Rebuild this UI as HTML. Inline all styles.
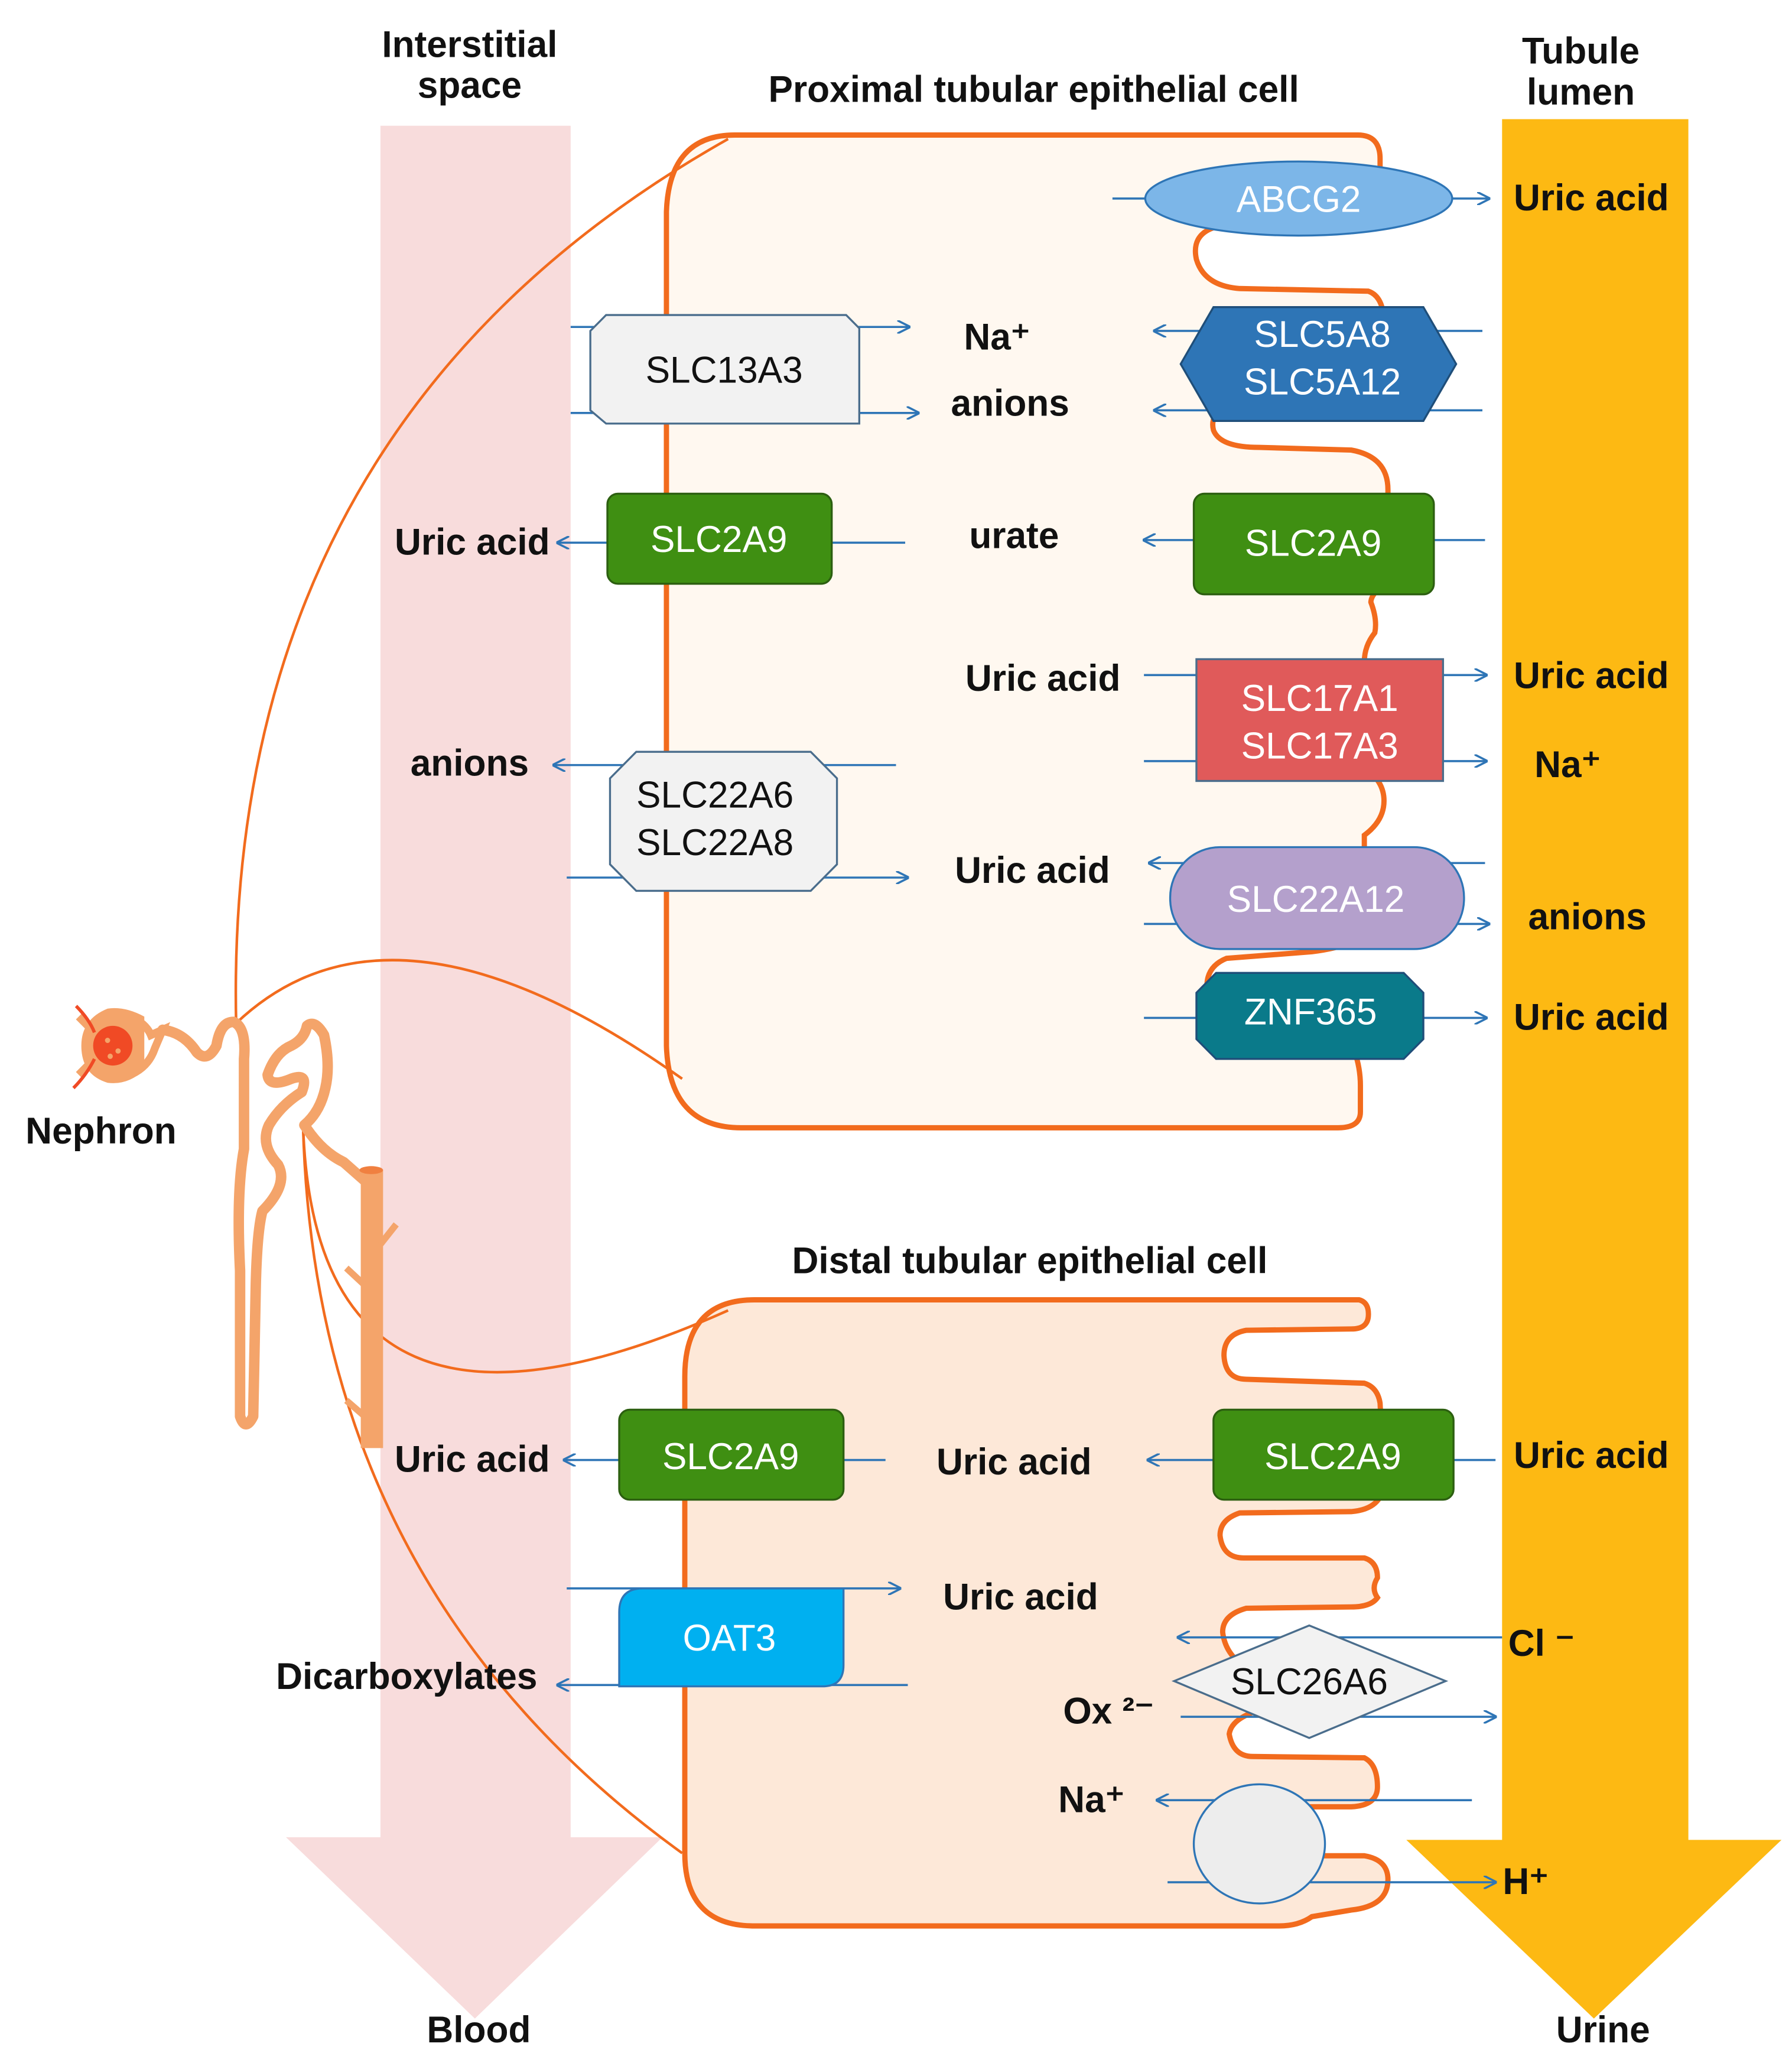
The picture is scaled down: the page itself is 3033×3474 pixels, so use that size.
<!DOCTYPE html>
<html><head><meta charset="utf-8"><style>
html,body{margin:0;padding:0;background:#fff}
svg{display:block}
text{font-family:"Liberation Sans",Arial,sans-serif}
.b{font-weight:bold;font-size:28px;fill:#111}
.t{font-size:28px}
</style></head><body>
<svg width="3033" height="3474" viewBox="0 0 1366 1551" preserveAspectRatio="none" xmlns="http://www.w3.org/2000/svg">
<defs>
<marker id="a" markerWidth="10" markerHeight="10" refX="9" refY="5" orient="auto" markerUnits="userSpaceOnUse">
<path d="M0,0 L10,5 L0,10" fill="none" stroke="#2e75b6" stroke-width="1.6"/>
</marker>
</defs>
<rect width="1366" height="1551" fill="#fff"/>
<!-- big arrows -->
<path d="M290,95 H435 V1388 H505 L362,1525 L218,1388 H290 Z" fill="#f8dcdc"/>
<path d="M1145,90 H1287 V1390 H1358 L1215,1525 L1072,1390 H1145 Z" fill="#fdb913"/>

<!-- headers -->
<text class="b" x="358" y="43" text-anchor="middle">Interstitial</text>
<text class="b" x="358" y="74" text-anchor="middle">space</text>
<text class="b" x="1205" y="48" text-anchor="middle">Tubule</text>
<text class="b" x="1205" y="79" text-anchor="middle">lumen</text>
<text class="b" x="788" y="77" text-anchor="middle">Proximal tubular epithelial  cell</text>
<text class="b" x="785" y="962" text-anchor="middle">Distal tubular epithelial  cell</text>
<text class="b" x="365" y="1543" text-anchor="middle">Blood</text>
<text class="b" x="1222" y="1543" text-anchor="middle">Urine</text>
<text class="b" x="77" y="864" text-anchor="middle">Nephron</text>

<!-- proximal cell -->
<path d="M560,102 H1035 Q1052,102 1052,120 L1052,150 Q1052,165 1000,168 L925,172 Q908,178 912,196 Q918,216 945,218 L1043,220 Q1055,224 1055,245 L1055,290 Q1055,305 1000,306 L935,308 Q922,313 925,325 Q930,338 960,338 L1030,340 Q1058,345 1058,370 L1058,440 Q1045,448 1045,455 Q1050,468 1048,478 Q1040,488 1040,500 L1040,580 Q1055,590 1055,605 Q1055,620 1040,631 L1040,700 Q1040,714 1000,719 L935,724 Q920,730 920,745 L1031,790 Q1037,805 1037,820 L1037,840 Q1037,852 1020,852 H565 Q510,852 508,790 V160 Q510,102 560,102 Z" fill="#fff8f0" stroke="#f26b1d" stroke-width="4"/>
<!-- distal cell -->
<path d="M575,982 H1036 Q1044,984 1043,995 Q1042,1004 1030,1004 L950,1005 Q933,1008 933,1024 Q934,1042 950,1042 L1040,1045 Q1050,1048 1052,1060 L1055,1120 Q1054,1140 1030,1142 L945,1143 Q930,1148 930,1160 Q932,1177 948,1177 L1040,1177 Q1050,1180 1050,1192 Q1045,1200 1050,1207 Q1045,1214 1030,1214 L950,1215 Q932,1220 932,1233 Q934,1250 950,1260 L1000,1286 Q940,1290 937,1310 Q940,1327 955,1327 L1040,1328 Q1050,1333 1050,1350 Q1050,1364 1030,1365 L960,1365 L960,1402 L1040,1402 Q1058,1405 1058,1420 Q1058,1440 1030,1443 L1000,1448 Q990,1455 975,1455 H575 Q522,1455 522,1400 V1040 Q522,982 575,982 Z" fill="#fde8d8" stroke="#f26b1d" stroke-width="4"/>

<!-- connection lines -->
<g fill="none" stroke="#f26b1d" stroke-width="2">
<path d="M180,773 Q170,320 555,105"/>
<path d="M180,773 Q300,660 520,815"/>
<path d="M231,850 Q240,1130 555,990"/>
<path d="M231,850 Q240,1200 520,1400"/>
</g>
<!-- nephron -->
<g fill="none" stroke="#f4a46a" stroke-width="8" stroke-linecap="round" stroke-linejoin="round">
<path d="M124,778 Q140,780 150,795 Q158,803 165,790 Q168,772 178,772 Q188,776 186,800 L186,868 Q180,900 183,960 L183,1070 Q187,1082 193,1070 L195,970 Q196,930 200,915 Q220,895 212,880 Q198,865 205,850 Q214,835 230,825 Q236,810 222,815 Q205,822 204,812 Q210,795 222,790 Q232,785 234,775 Q240,770 247,782 Q252,805 248,822 Q244,840 232,850 Q245,870 262,878 Q270,885 278,892"/>
</g>
<path d="M110,768 Q95,760 82,762 Q62,770 62,790 Q62,812 82,818 Q98,820 110,808" fill="#f4a46a"/>
<path d="M90,765 Q110,770 115,782 L124,778 L118,792 Q112,810 90,815 Q76,812 72,800 L60,812 M72,780 L60,768" fill="none" stroke="#f4a46a" stroke-width="6"/>
<circle cx="86" cy="790" r="15" fill="#f04a25"/>
<path d="M58,760 Q68,770 72,780 M56,822 Q66,812 72,800" stroke="#f04a25" stroke-width="2.5" fill="none"/>
<circle cx="82" cy="786" r="2" fill="#f4a46a"/><circle cx="90" cy="794" r="2" fill="#f4a46a"/><circle cx="84" cy="798" r="2" fill="#f4a46a"/>
<path d="M275,884 H292 V1094 H275 Z" fill="#f4a46a"/>
<ellipse cx="283" cy="884" rx="9" ry="3" fill="#f08040"/>
<path d="M290,940 L302,925 M277,970 L264,958 M278,1070 L264,1058" stroke="#f4a46a" stroke-width="5"/>

<!-- arrows -->
<g stroke="#2e75b6" stroke-width="1.6" fill="none" marker-end="url(#a)">
<path d="M848,150 H1135"/>
<path d="M435,247 H693"/><path d="M435,312 H700"/>
<path d="M1130,250 H880"/><path d="M1130,310 H880"/>
<path d="M690,410 H425"/>
<path d="M1132,408 H872"/>
<path d="M872,510 H1133"/><path d="M872,575 H1133"/>
<path d="M683,578 H422"/>
<path d="M432,663 H692"/>
<path d="M1132,652 H876"/><path d="M872,698 H1135"/>
<path d="M872,769 H1133"/>
<path d="M675,1103 H430"/>
<path d="M1140,1103 H875"/>
<path d="M432,1200 H686"/>
<path d="M692,1273 H425"/>
<path d="M1145,1237 H898"/>
<path d="M900,1297 H1140"/>
<path d="M1122,1360 H882"/>
<path d="M890,1422 H1140"/>
</g>

<!-- transporters -->
<ellipse cx="990" cy="150" rx="117" ry="28" fill="#7cb6e8" stroke="#2e75b6" stroke-width="1.5"/>
<text class="t" x="990" y="160" text-anchor="middle" fill="#fff">ABCG2</text>

<path d="M462,238 H645 L655,248 V320 H462 L450,310 V250 Z" fill="#f2f2f2" stroke="#4a6d8c" stroke-width="1.5"/>
<text class="t" x="552" y="289" text-anchor="middle" fill="#111">SLC13A3</text>

<path d="M925,232 H1085 L1110,275 L1085,318 H925 L900,275 Z" fill="#2e75b6" stroke="#1f4e79" stroke-width="1.5"/>
<text class="t" x="1008" y="262" text-anchor="middle" fill="#fff">SLC5A8</text>
<text class="t" x="1008" y="298" text-anchor="middle" fill="#fff">SLC5A12</text>

<rect x="463" y="373" width="171" height="68" rx="8" fill="#3f8f12" stroke="#2c5f10" stroke-width="1.5"/>
<text class="t" x="548" y="417" text-anchor="middle" fill="#fff">SLC2A9</text>
<rect x="910" y="373" width="183" height="76" rx="8" fill="#3f8f12" stroke="#2c5f10" stroke-width="1.5"/>
<text class="t" x="1001" y="420" text-anchor="middle" fill="#fff">SLC2A9</text>

<rect x="912" y="498" width="188" height="92" fill="#e05a5a" stroke="#4a6d8c" stroke-width="1.5"/>
<text class="t" x="1006" y="537" text-anchor="middle" fill="#fff">SLC17A1</text>
<text class="t" x="1006" y="573" text-anchor="middle" fill="#fff">SLC17A3</text>

<path d="M485,568 H618 L638,588 V653 L618,673 H485 L465,653 V588 Z" fill="#f2f2f2" stroke="#4a6d8c" stroke-width="1.5"/>
<text class="t" x="545" y="610" text-anchor="middle" fill="#111">SLC22A6</text>
<text class="t" x="545" y="646" text-anchor="middle" fill="#111">SLC22A8</text>

<rect x="892" y="640" width="224" height="77" rx="38" fill="#b4a0cc" stroke="#2e75b6" stroke-width="1.5"/>
<text class="t" x="1003" y="689" text-anchor="middle" fill="#fff">SLC22A12</text>

<path d="M927,735 H1070 L1085,750 V785 L1070,800 H927 L912,785 V750 Z" fill="#0a7a8a" stroke="#1f4e79" stroke-width="1.5"/>
<text class="t" x="999" y="774" text-anchor="middle" fill="#fff">ZNF365</text>

<rect x="472" y="1065" width="171" height="68" rx="8" fill="#3f8f12" stroke="#2c5f10" stroke-width="1.5"/>
<text class="t" x="557" y="1110" text-anchor="middle" fill="#fff">SLC2A9</text>
<rect x="925" y="1065" width="183" height="68" rx="8" fill="#3f8f12" stroke="#2c5f10" stroke-width="1.5"/>
<text class="t" x="1016" y="1110" text-anchor="middle" fill="#fff">SLC2A9</text>

<path d="M490,1200 H643 V1258 Q643,1274 627,1274 H472 V1218 Q472,1200 490,1200 Z" fill="#00b0f0" stroke="#2e75b6" stroke-width="1.5"/>
<text class="t" x="556" y="1247" text-anchor="middle" fill="#fff">OAT3</text>

<path d="M998,1228 L1102,1270 L998,1313 L895,1270 Z" fill="#f2f2f2" stroke="#4a6d8c" stroke-width="1.5"/>
<text class="t" x="998" y="1280" text-anchor="middle" fill="#111">SLC26A6</text>

<ellipse cx="960" cy="1393" rx="50" ry="45" fill="#ededed" stroke="#2e75b6" stroke-width="1.5"/>

<!-- labels -->
<text class="b" x="1213" y="159" text-anchor="middle">Uric acid</text>
<text class="b" x="760" y="264" text-anchor="middle">Na⁺</text>
<text class="b" x="770" y="314" text-anchor="middle">anions</text>
<text class="b" x="360" y="419" text-anchor="middle">Uric acid</text>
<text class="b" x="773" y="414" text-anchor="middle">urate</text>
<text class="b" x="795" y="522" text-anchor="middle">Uric acid</text>
<text class="b" x="1213" y="520" text-anchor="middle">Uric acid</text>
<text class="b" x="1195" y="587" text-anchor="middle">Na⁺</text>
<text class="b" x="358" y="586" text-anchor="middle">anions</text>
<text class="b" x="787" y="667" text-anchor="middle">Uric acid</text>
<text class="b" x="1210" y="702" text-anchor="middle">anions</text>
<text class="b" x="1213" y="778" text-anchor="middle">Uric acid</text>
<text class="b" x="360" y="1112" text-anchor="middle">Uric acid</text>
<text class="b" x="773" y="1114" text-anchor="middle">Uric acid</text>
<text class="b" x="1213" y="1109" text-anchor="middle">Uric acid</text>
<text class="b" x="778" y="1216" text-anchor="middle">Uric acid</text>
<text class="b" x="310" y="1276" text-anchor="middle">Dicarboxylates</text>
<text class="b" x="1175" y="1251" text-anchor="middle">Cl ⁻</text>
<text class="b" x="845" y="1302" text-anchor="middle">Ox ²⁻</text>
<text class="b" x="832" y="1369" text-anchor="middle">Na⁺</text>
<text class="b" x="1163" y="1431" text-anchor="middle">H⁺</text>
</svg>
</body></html>
